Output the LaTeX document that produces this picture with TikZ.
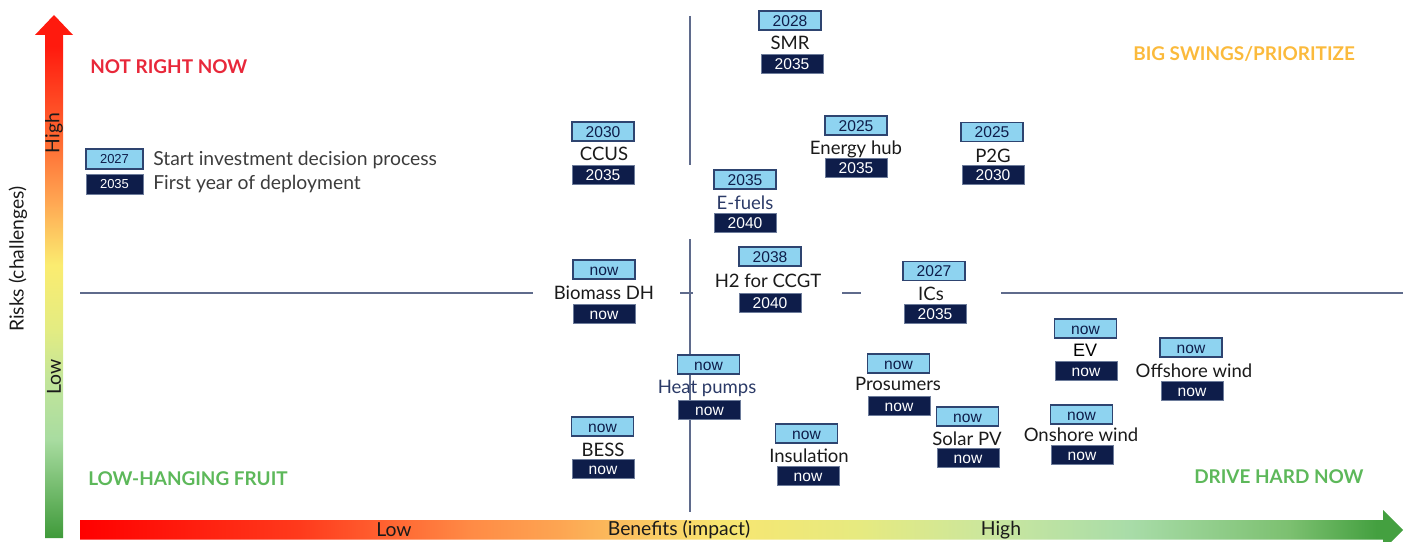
\documentclass[tikz,border=0pt]{standalone}
\usepackage{fontspec}
\setmainfont{Lato}
\newfontfamily\numfont{Liberation Sans}

% palette
\definecolor{gridline}{HTML}{5F6B8C}
\definecolor{lightfill}{HTML}{8ED3F0}
\definecolor{boxedge}{HTML}{2E4470}
\definecolor{darkfill}{HTML}{0E1D4A}
\definecolor{navytext}{HTML}{2B3A67}
\definecolor{labeltext}{HTML}{1A1A1A}
\definecolor{qred}{HTML}{E8283A}
\definecolor{qorange}{HTML}{FBBA3C}
\definecolor{qgreen}{HTML}{5DB85A}

% risk axis colours (bottom to top)
\definecolor{rkA}{HTML}{3F9A3A}
\definecolor{rkB}{HTML}{A8DCA0}
\definecolor{rkC}{HTML}{C2E59A}
\definecolor{rkD}{HTML}{E3EC82}
\definecolor{rkE}{HTML}{FBEC70}
\definecolor{rkF}{HTML}{FFA552}
\definecolor{rkG}{HTML}{FF6A32}
\definecolor{rkH}{HTML}{FF1A0E}
\pgfdeclareverticalshading{riskshade}{100bp}{%
  color(0bp)=(rkA); color(25bp)=(rkA); color(34.4bp)=(rkB); color(40.1bp)=(rkC);
  color(44.9bp)=(rkD); color(51.1bp)=(rkE); color(57.3bp)=(rkF); color(63bp)=(rkG);
  color(72bp)=(rkH); color(100bp)=(rkH)}

% benefit axis colours (left to right)
\definecolor{bnA}{HTML}{FF0000}
\definecolor{bnB}{HTML}{FF3A1C}
\definecolor{bnC}{HTML}{FF8A45}
\definecolor{bnD}{HTML}{FDA552}
\definecolor{bnE}{HTML}{F8E670}
\definecolor{bnF}{HTML}{E6EA80}
\definecolor{bnG}{HTML}{C8E6A0}
\definecolor{bnH}{HTML}{A8DCA8}
\definecolor{bnI}{HTML}{7CC070}
\definecolor{bnJ}{HTML}{44A040}
\pgfdeclarehorizontalshading{benefitshade}{100bp}{%
  color(0bp)=(bnA); color(25bp)=(bnA); color(33.3bp)=(bnB); color(39.7bp)=(bnC);
  color(43.1bp)=(bnD); color(49.2bp)=(bnE); color(54.5bp)=(bnF); color(59.8bp)=(bnG);
  color(64.7bp)=(bnH); color(70.7bp)=(bnI); color(74bp)=(bnJ); color(100bp)=(bnJ)}

\tikzset{
  yearbox/.style={minimum width=46.5pt, minimum height=14.25pt, inner sep=0pt,
    font=\numfont\fontsize{11.7}{12}\selectfont, text height=8.4pt, text depth=0pt},
  startbox/.style={yearbox, draw=boxedge, line width=0.9pt, fill=lightfill, text=darkfill},
  deploybox/.style={yearbox, draw=boxedge!70, line width=0.6pt, fill=darkfill, text=white},
  techlabel/.style={inner sep=0pt, font=\fontsize{13.9}{15}\selectfont,
    text=labeltext, text height=9.8pt, text depth=0pt},
  legendtext/.style={inner sep=0pt, anchor=west, font=\fontsize{14.5}{15}\selectfont,
    text=labeltext!85, text height=10.2pt, text depth=0pt},
  quadlabel/.style={inner sep=0pt, anchor=west, font=\bfseries\fontsize{14.2}{15}\selectfont},
  axislabel/.style={inner sep=0pt, font=\fontsize{14.5}{15}\selectfont, text=labeltext},
  divider/.style={draw=gridline, line width=1.1pt},
}

\begin{document}
\begin{tikzpicture}[x=0.75pt, y=-0.75pt]
\useasboundingbox (0,0) rectangle (1411,542);
\clip (0,0) rectangle (1411,542);

% axes
\shade[shading=riskshade] (45,538) -- (45,35) -- (35,35) -- (54,15) -- (73,35)
  -- (63,35) -- (63,538) -- cycle;
\shade[shading=benefitshade] (80,520) -- (1383,520) -- (1383,510) -- (1403,530)
  -- (1383,550) -- (1383,539.5) -- (80,539.5) -- cycle;

\node[axislabel, rotate=90] (riskaxis) at (18,259) {Risks (challenges)};
\node[axislabel, rotate=90] (riskhigh) at (54,133) {High};
\node[axislabel, rotate=90] (risklow) at (54,377) {Low};
\node[axislabel] (benlow) at (394,530) {Low};
\node[axislabel] (benaxis) at (679,530) {Benefits (impact)};
\node[axislabel] (benhigh) at (1001,530) {High};

% quadrant dividers
\coordinate (v1) at (690,16);  \coordinate (v2) at (690,165);
\coordinate (v3) at (690,239); \coordinate (v4) at (690,512);
\coordinate (h1) at (80,293);  \coordinate (h2) at (533,293);
\coordinate (h3) at (680,293); \coordinate (h4) at (693,293);
\coordinate (h5) at (842,293); \coordinate (h6) at (861,293);
\coordinate (h7) at (1001,293); \coordinate (h8) at (1403,293);
\draw[divider] (v1) -- (v2);
\draw[divider] (v3) -- (v4);
\draw[divider] (h1) -- (h2);
\draw[divider] (h3) -- (h4);
\draw[divider] (h5) -- (h6);
\draw[divider] (h7) -- (h8);

% quadrant titles
\node[quadlabel, text=qred] (qnot) at (90,67) {NOT RIGHT NOW};
\node[quadlabel, text=qorange] (qbig) at (1133,54) {BIG SWINGS/PRIORITIZE};
\node[quadlabel, text=qgreen] (qlow) at (88,479) {LOW-HANGING FRUIT};
\node[quadlabel, text=qgreen] (qdrive) at (1194,477) {DRIVE HARD NOW};

% legend
\node[startbox, minimum width=42.75pt, minimum height=15pt,
  font=\numfont\fontsize{9.75}{10}\selectfont, text height=7pt] (legstart) at (114.5,159) {2027};
\node[deploybox, minimum width=42.75pt, minimum height=15pt,
  font=\numfont\fontsize{9.75}{10}\selectfont, text height=7pt] (legdeploy) at (114.5,184) {2035};
\node[legendtext] (legstarttext) at (153,159) {Start investment decision process};
\node[legendtext] (legdeploytext) at (153,183) {First year of deployment};

% technologies: start year / name / deployment year
\node[startbox] (smr-t) at (790,20.5) {2028};
\node[techlabel] (smr-l) at (790,43) {SMR};
\node[deploybox] (smr-b) at (792,63.5) {2035};

\node[startbox] (ccus-t) at (603,131.5) {2030};
\node[techlabel] (ccus-l) at (604,154) {CCUS};
\node[deploybox] (ccus-b) at (603,174.5) {2035};

\node[startbox] (hub-t) at (856,125.5) {2025};
\node[techlabel] (hub-l) at (856,148) {Energy hub};
\node[deploybox] (hub-b) at (856,167.5) {2035};

\node[startbox] (p2g-t) at (992,132) {2025};
\node[techlabel] (p2g-l) at (993,156) {P2G};
\node[deploybox] (p2g-b) at (993,175) {2030};

\node[startbox] (efuel-t) at (745,179.5) {2035};
\node[techlabel, text=navytext] (efuel-l) at (745,203) {E-fuels};
\node[deploybox] (efuel-b) at (745,222.5) {2040};

\node[startbox] (bio-t) at (604,269.5) {now};
\node[techlabel] (bio-l) at (604,293) {Biomass DH};
\node[deploybox] (bio-b) at (604,313.5) {now};

\node[startbox] (h2-t) at (770,256.5) {2038};
\node[techlabel] (h2-l) at (768,281) {H2 for CCGT};
\node[deploybox] (h2-b) at (770,302.5) {2040};

\node[startbox] (ics-t) at (934,271) {2027};
\node[techlabel] (ics-l) at (931,294) {ICs};
\node[deploybox] (ics-b) at (935,314) {2035};

\node[startbox] (heat-t) at (708.5,364.5) {now};
\node[techlabel, text=navytext] (heat-l) at (707,387) {Heat pumps};
\node[deploybox] (heat-b) at (709.5,409.5) {now};

\node[startbox] (pros-t) at (898.5,363.5) {now};
\node[techlabel] (pros-l) at (898,384) {Prosumers};
\node[deploybox] (pros-b) at (899,405.5) {now};

\node[startbox] (solar-t) at (967.5,416.5) {now};
\node[techlabel] (solar-l) at (967,439) {Solar PV};
\node[deploybox] (solar-b) at (968,458) {now};

\node[startbox] (bess-t) at (602.5,426.5) {now};
\node[techlabel] (bess-l) at (603,450) {BESS};
\node[deploybox] (bess-b) at (603,468.5) {now};

\node[startbox] (ins-t) at (806.5,433.5) {now};
\node[techlabel] (ins-l) at (809,456) {Insulation};
\node[deploybox] (ins-b) at (808,476) {now};

\node[startbox] (ev-t) at (1085.5,328.5) {now};
\node[techlabel, font=\numfont\fontsize{13.5}{14}\selectfont, text=black] (ev-l) at (1085,350) {EV};
\node[deploybox] (ev-b) at (1086,371) {now};

\node[startbox] (off-t) at (1191,347.5) {now};
\node[techlabel] (off-l) at (1194,371) {Offshore wind};
\node[deploybox] (off-b) at (1192,390.5) {now};

\node[startbox] (on-t) at (1081.5,414.5) {now};
\node[techlabel] (on-l) at (1081,435) {Onshore wind};
\node[deploybox] (on-b) at (1082,455) {now};
\end{tikzpicture}
\end{document}
